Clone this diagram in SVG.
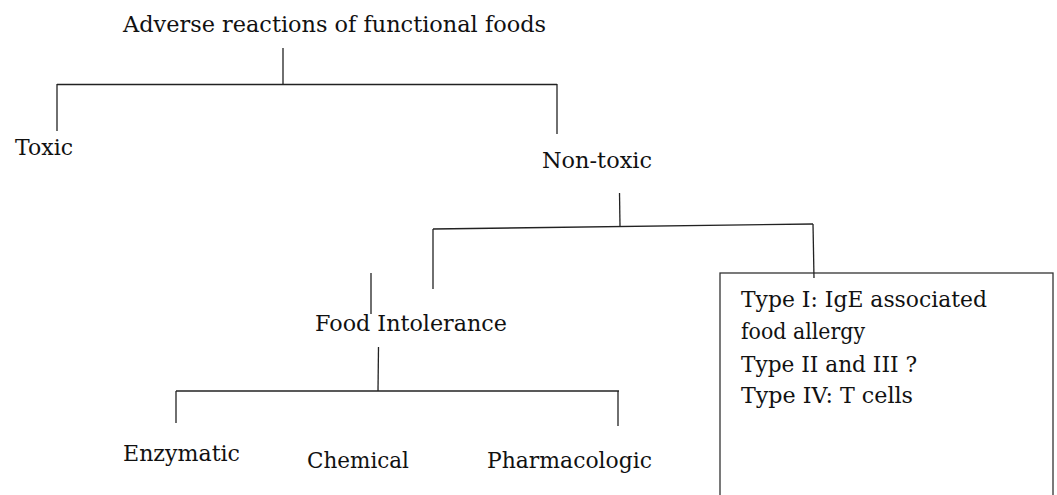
<svg xmlns="http://www.w3.org/2000/svg" width="1057" height="495" viewBox="0 0 1057 495">
<style>
text { font-family: "DejaVu Serif", "Liberation Serif", serif; font-size: 22px; fill: #111; }
.ln { stroke: #222; stroke-width: 1.3; fill: none; }
.box { stroke: #333; stroke-width: 1.3; fill: #fff; }
</style>
<rect width="1057" height="495" fill="#fff"/>
<g id="n-allergy-box">
<rect class="box" x="720" y="273" width="333" height="240"/>
<text x="741" y="307" textLength="246" lengthAdjust="spacingAndGlyphs">Type I: IgE associated</text>
<text x="741" y="339" textLength="124" lengthAdjust="spacingAndGlyphs">food allergy</text>
<text x="741" y="372" textLength="176" lengthAdjust="spacingAndGlyphs">Type II and III ?</text>
<text x="741" y="403" textLength="172" lengthAdjust="spacingAndGlyphs">Type IV: T cells</text>
</g>
<g id="connectors">
<line class="ln" x1="283" y1="48" x2="283" y2="85"/>
<line class="ln" x1="57" y1="84.5" x2="557" y2="84.5"/>
<line class="ln" x1="57" y1="84" x2="57" y2="131"/>
<line class="ln" x1="557" y1="84" x2="557" y2="134"/>
<line class="ln" x1="619.5" y1="193" x2="620" y2="226"/>
<line class="ln" x1="433" y1="229" x2="813" y2="224"/>
<line class="ln" x1="433" y1="229" x2="433" y2="289"/>
<line class="ln" x1="813" y1="224" x2="814" y2="278"/>
<line class="ln" x1="371" y1="273" x2="371" y2="314"/>
<line class="ln" x1="378.5" y1="347" x2="378" y2="391"/>
<line class="ln" x1="176" y1="391" x2="619" y2="391"/>
<line class="ln" x1="176" y1="391" x2="176" y2="423"/>
<line class="ln" x1="618" y1="391" x2="618" y2="426"/>
</g>
<g id="n-root">
<text x="123" y="32" textLength="423" lengthAdjust="spacingAndGlyphs">Adverse reactions of functional foods</text>
</g>
<g id="n-toxic">
<text x="15" y="155" textLength="58" lengthAdjust="spacingAndGlyphs">Toxic</text>
</g>
<g id="n-nontoxic">
<text x="542" y="168" textLength="110" lengthAdjust="spacingAndGlyphs">Non-toxic</text>
</g>
<g id="n-intolerance">
<text x="315" y="331" textLength="192" lengthAdjust="spacingAndGlyphs">Food Intolerance</text>
</g>
<g id="n-enzymatic">
<text x="123" y="461" textLength="117" lengthAdjust="spacingAndGlyphs">Enzymatic</text>
</g>
<g id="n-chemical">
<text x="307" y="468" textLength="102" lengthAdjust="spacingAndGlyphs">Chemical</text>
</g>
<g id="n-pharmacologic">
<text x="487" y="468" textLength="165" lengthAdjust="spacingAndGlyphs">Pharmacologic</text>
</g>
</svg>
